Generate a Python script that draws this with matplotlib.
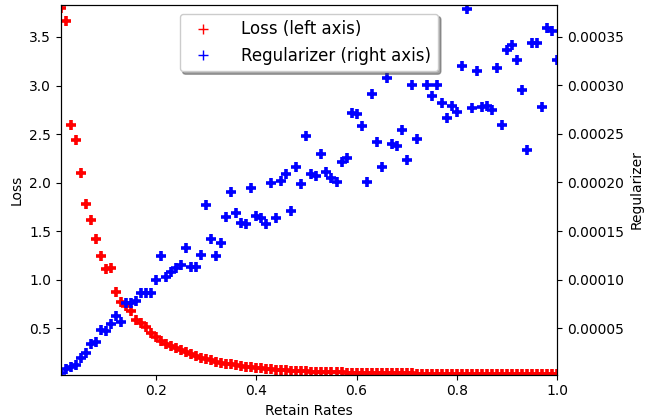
import numpy as np
import matplotlib
matplotlib.use('Agg')
import matplotlib.pyplot as plt
from matplotlib.ticker import FormatStrFormatter

# retain rates 0.01 ... 1.00
retain_rates = np.arange(1, 101) / 100

loss = [3.80, 3.66, 2.59, 2.44, 2.10, 1.78, 1.61, 1.42, 1.24, 1.11,
        1.12, 0.87, 0.77, 0.73, 0.68, 0.58, 0.55, 0.51, 0.45, 0.41,
        0.37, 0.34, 0.32, 0.29, 0.27, 0.25, 0.23, 0.21, 0.195, 0.185,
        0.17, 0.155, 0.145, 0.135, 0.128, 0.118, 0.11, 0.102, 0.095, 0.09,
        0.084, 0.08, 0.075, 0.072, 0.067, 0.064, 0.061, 0.058, 0.056, 0.054,
        0.052, 0.050, 0.049, 0.047, 0.046, 0.045, 0.043, 0.042, 0.041, 0.040,
        0.039, 0.038, 0.038, 0.037, 0.036, 0.035, 0.035, 0.034, 0.034, 0.033,
        0.033, 0.032, 0.032, 0.031, 0.031, 0.030, 0.030, 0.030, 0.029, 0.029,
        0.029, 0.028, 0.028, 0.028, 0.027, 0.027, 0.027, 0.027, 0.026, 0.026,
        0.026, 0.026, 0.025, 0.025, 0.025, 0.025, 0.025, 0.024, 0.024, 0.024]

# regularizer in units of 1e-5
reg_e5 = [0.4, 0.74, 1.0, 1.18, 1.87, 2.45, 3.35, 3.58, 4.79, 4.72,
          5.38, 6.23, 5.65, 7.6, 7.6, 7.81, 8.63, 8.63, 8.63, 10.0,
          12.4, 10.3, 10.8, 11.15, 11.5, 13.2, 11.3, 11.25, 12.5, 17.7,
          14.2, 12.45, 13.8, 16.4, 19.05, 16.9, 15.8, 15.7, 19.4, 16.5,
          16.3, 15.7, 19.9, 16.3, 20.2, 20.9, 17.1, 21.6, 19.8, 24.8,
          20.9, 20.7, 22.9, 21.1, 20.5, 20.0, 22.1, 22.5, 27.2, 27.1,
          25.8, 20.0, 29.1, 24.2, 21.6, 30.8, 24.0, 23.8, 25.4, 22.3,
          30.0, 24.5, 31.9, 30.1, 28.9, 30.1, 28.2, 26.6, 27.9, 27.3,
          32.0, 37.9, 27.7, 31.5, 27.8, 27.9, 27.5, 31.8, 25.9, 33.7,
          34.2, 32.6, 29.5, 23.3, 34.4, 34.4, 27.8, 35.9, 35.6, 32.6]
regularizer = np.array(reg_e5) * 1e-5

plt.rcParams['font.family'] = 'DejaVu Sans'
plt.rcParams['font.size'] = 10

fig, ax = plt.subplots(figsize=(6.47, 4.19), dpi=100)
fig.subplots_adjust(left=0.094, right=0.861, top=0.987, bottom=0.106)
ax2 = ax.twinx()

l1, = ax.plot(retain_rates, loss, '+', color='red', ms=6.5, mew=2.6,
              label='Loss (left axis)')
l2, = ax2.plot(retain_rates, regularizer, '+', color='blue', ms=6.5, mew=2.6,
               label='Regularizer (right axis)')

ax.set_xlim(0.01, 1.0)
ax.set_ylim(0.021, 3.825)
ax2.set_ylim(0.000002, 0.0003825)
ax2.yaxis.set_major_formatter(FormatStrFormatter('%.5f'))

ax.set_xlabel('Retain Rates')
ax.set_ylabel('Loss')
ax2.set_ylabel('Regularizer')

leg = ax2.legend(handles=[l1, l2], loc='upper center', shadow=True,
                 fancybox=True, fontsize=12, handletextpad=1.3)
for h in leg.legend_handles:
    h.set_markeredgewidth(1)
    h.set_markersize(7)

plt.savefig('out.png', dpi=100)
